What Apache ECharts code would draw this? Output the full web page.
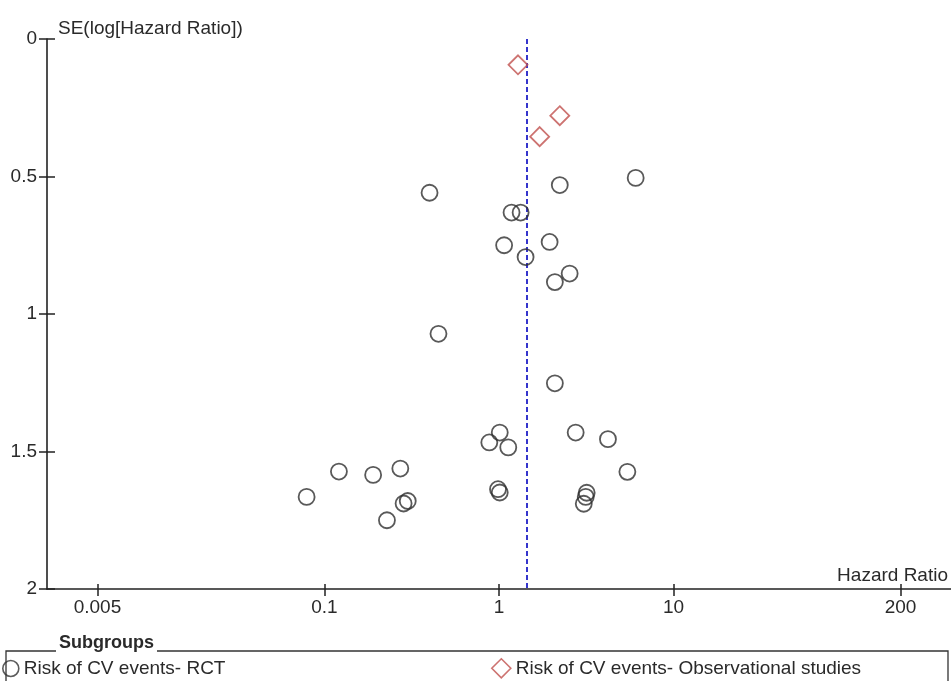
<!DOCTYPE html>
<html><head><meta charset="utf-8">
<script src="https://cdn.jsdelivr.net/npm/echarts@6/dist/echarts.min.js"></script>
<style>html,body{margin:0;padding:0;background:#fff}#c{width:951px;height:681px}</style>
</head><body><div id="c"></div>
<script>
// ---- data ----
const xTickLabels = ['0.005', '0.1', '1', '10', '200'];
const xTickValues = [0.005, 0.1, 1, 10, 200];
const yTickLabels = ['0', '0.5', '1', '1.5', '2'];
const pooledHR = 1.45;

const rctName = 'Risk of CV events- RCT';
const rctHR = [0.40, 2.23, 6.07, 1.18, 1.33, 1.07, 1.95, 1.42, 2.54, 2.09,
               0.45, 2.09, 1.01, 0.88, 1.13, 2.75, 4.21, 5.44, 0.121, 0.19,
               0.272, 0.079, 0.30, 0.284, 0.228, 0.987, 1.01, 3.18, 3.14, 3.06];
const rctSE = [0.559, 0.531, 0.505, 0.631, 0.631, 0.750, 0.738, 0.793, 0.853, 0.884,
               1.072, 1.252, 1.431, 1.467, 1.485, 1.431, 1.455, 1.574, 1.573, 1.585,
               1.562, 1.665, 1.680, 1.689, 1.750, 1.637, 1.649, 1.650, 1.665, 1.690];

const obsName = 'Risk of CV events- Observational studies';
const obsHR = [1.285, 2.23, 1.71];
const obsSE = [0.094, 0.279, 0.355];

// ---- chart ----
const FONT = "'Liberation Sans', Arial, sans-serif";
const FS = 19;
const TXT = '#2a2a2a';
const LINE = '#222';
const xLogTicks = xTickValues.map(v => Math.log10(v));
const xLabelOf = v => {
  for (let i = 0; i < xLogTicks.length; i++) if (Math.abs(xLogTicks[i] - v) < 1e-6) return xTickLabels[i];
  return '';
};
const yLabelOf = v => {
  const i = Math.round(v / 0.5);
  return yTickLabels[i] !== undefined ? yTickLabels[i] : '';
};

const chart = echarts.init(document.getElementById('c'), null, {renderer: 'canvas'});
const option = {
  animation: false,
  backgroundColor: '#fff',
  textStyle: {fontFamily: FONT},
  grid: {left: 47, right: 0, top: 39, bottom: 92, containLabel: false},
  xAxis: [{
    type: 'value', min: -2.59, max: 2.59, position: 'bottom',
    axisLine: {show: true, onZero: false, lineStyle: {color: LINE, width: 1.6}},
    axisTick: {show: true, customValues: xLogTicks, length: 7, lineStyle: {color: LINE, width: 1.5}},
    axisLabel: {customValues: xLogTicks, formatter: xLabelOf, fontSize: FS, color: TXT, margin: 9, fontFamily: FONT},
    splitLine: {show: false},
    name: 'Hazard Ratio', nameLocation: 'end', nameGap: 0,
    nameTextStyle: {align: 'right', verticalAlign: 'bottom', padding: [0, 3, 4, 0], fontSize: FS, color: TXT, fontFamily: FONT}
  }, {
    type: 'value', min: -2.59, max: 2.59, position: 'bottom',
    axisLine: {show: false, onZero: false},
    axisTick: {show: true, inside: true, customValues: xLogTicks, length: 5, lineStyle: {color: LINE, width: 1.5}},
    axisLabel: {show: false},
    splitLine: {show: false}
  }],
  yAxis: [{
    type: 'value', inverse: true, min: 0, max: 2, interval: 0.5, position: 'left',
    axisLine: {show: true, onZero: false, lineStyle: {color: LINE, width: 1.6}},
    axisTick: {show: true, length: 8, lineStyle: {color: LINE, width: 1.5}},
    axisLabel: {formatter: yLabelOf, fontSize: FS, color: TXT, margin: 10, fontFamily: FONT},
    splitLine: {show: false},
    name: 'SE(log[Hazard Ratio])', nameLocation: 'start', nameGap: 10,
    nameTextStyle: {align: 'left', verticalAlign: 'middle', padding: [0, 0, 0, 11], fontSize: FS, color: TXT, fontFamily: FONT}
  }, {
    type: 'value', inverse: true, min: 0, max: 2, interval: 0.5, position: 'left',
    axisLine: {show: false, onZero: false},
    axisTick: {show: true, inside: true, length: 8, lineStyle: {color: LINE, width: 1.5}},
    axisLabel: {show: false},
    splitLine: {show: false}
  }],
  legend: [{
    data: [rctName], left: 2, top: 659, padding: 0, icon: 'circle', itemWidth: 16, itemHeight: 16, itemGap: 0,
    selectedMode: false,
    itemStyle: {color: 'rgba(0,0,0,0)', borderColor: '#333', borderWidth: 1.6},
    textStyle: {fontSize: FS, color: TXT, fontFamily: FONT}
  }, {
    data: [obsName], left: 491, top: 658, padding: 0, icon: 'diamond', itemWidth: 19, itemHeight: 19, itemGap: 0,
    selectedMode: false,
    itemStyle: {color: 'rgba(0,0,0,0)', borderColor: '#c0504d', borderWidth: 1.6},
    textStyle: {fontSize: FS, color: TXT, fontFamily: FONT}
  }],
  graphic: [{
    type: 'rect', silent: true, z: 0,
    shape: {x: 6, y: 651, width: 942, height: 60},
    style: {fill: 'none', stroke: '#333', lineWidth: 1.3}
  }, {
    type: 'text', silent: true, z: 10, x: 56, y: 643,
    style: {text: 'Subgroups', font: "bold 18px 'Liberation Sans', Arial, sans-serif", fill: TXT,
            backgroundColor: '#fff', padding: [0, 3, 0, 3], verticalAlign: 'middle'}
  }],
  series: [{
    name: rctName, type: 'scatter', xAxisIndex: 0, yAxisIndex: 0,
    symbol: 'circle', symbolSize: 16, silent: true, z: 3,
    itemStyle: {color: 'rgba(0,0,0,0)', borderColor: '#2f2f2f', borderWidth: 1.8},
    emphasis: {disabled: true},
    data: rctHR.map((h, i) => [Math.log10(h), rctSE[i]])
  }, {
    name: obsName, type: 'scatter', xAxisIndex: 0, yAxisIndex: 0,
    symbol: 'diamond', symbolSize: 19, silent: true, z: 3,
    itemStyle: {color: 'rgba(0,0,0,0)', borderColor: '#c0504d', borderWidth: 1.8},
    emphasis: {disabled: true},
    data: obsHR.map((h, i) => [Math.log10(h), obsSE[i]]),
    markLine: {
      silent: true, symbol: 'none', z: 2,
      label: {show: false},
      lineStyle: {color: '#3535cc', width: 2, type: [5, 3]},
      data: [[{coord: [Math.log10(pooledHR), 0]}, {coord: [Math.log10(pooledHR), 2]}]]
    }
  }]
};
chart.setOption(option);
</script>
</body></html>
